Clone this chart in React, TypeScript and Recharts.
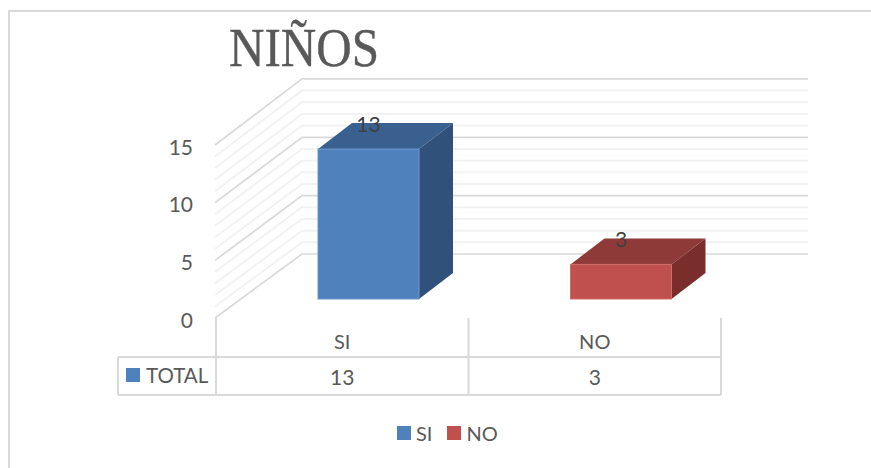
import React from "react";
import { BarChart, Bar, XAxis, YAxis, Legend, LabelList, CartesianGrid } from "recharts";

const titleText = "NIÑOS";
const categories = ["SI", "NO"];
const totals = [13, 3];
const rowLabel = "TOTAL";
const yTicks = [0, 1, 2, 3, 4, 5, 6, 7, 8, 9, 10, 11, 12, 13, 14, 15];

const frontColors = ["#4F81BD", "#C0504D"];
const topColors = ["#3A6090", "#8E3A38"];
const sideColors = ["#30527A", "#7A2E2C"];
const edgeColors = ["#6C97CC", "#D06C69"];

const FONT = "Lato, sans-serif";
const FONT_SIZE = 21;
const TEXT = "#595959";
const W = 871;
const H = 468;
const PLOT_LEFT = 216;
const PLOT_RIGHT = 721;
const PLOT_TOP = 145;
const PLOT_BOTTOM = 318;
const WALL_DX = 86;
const WALL_DY = 64;
const WALL_STRETCH = 0.012;
const WALL_RIGHT = 808;
const BAR_SHIFT_X = 26;
const BAR_SHIFT_Y = 19;
const BAR_DEPTH_X = 34;
const BAR_DEPTH_Y = 26;
const TABLE_LEFT = 118;
const TABLE_MID = 357;
const TABLE_BOTTOM = 395;
const LINE = "#D9D9D9";
const TABLE_WIDTH = 2;
const UNIT = (PLOT_BOTTOM - PLOT_TOP) / 15;

const data = categories.map((name, i) => ({ name, total: totals[i] }));

function WallLine(props: any) {
  const { y1 } = props;
  const y = y1 as number;
  const v = Math.round((PLOT_BOTTOM - y) / UNIT);
  const major = v % 5 === 0;
  const by = y - WALL_DY - (PLOT_BOTTOM - y) * WALL_STRETCH;
  return (
    <polyline
      key={`wall-${v}`}
      points={`${PLOT_LEFT - 1},${y} ${PLOT_LEFT + WALL_DX},${by} ${WALL_RIGHT},${by}`}
      fill="none"
      stroke={major ? LINE : "#F2F2F2"}
      strokeWidth={major ? 1.7 : 2}
    />
  );
}

function ValueTick(props: any) {
  const { y, payload } = props;
  const v = payload.value as number;
  if (v % 5 !== 0) return <g />;
  return (
    <text x={193} y={y + 1} textAnchor="end" dominantBaseline="central" fontFamily={FONT} fontSize={FONT_SIZE} fill={TEXT}>
      {v}
    </text>
  );
}

function TableTick(props: any) {
  const { x, payload, index } = props;
  const half = (PLOT_RIGHT - PLOT_LEFT) / categories.length / 2;
  return (
    <g>
      {index === 0 && (
        <g>
          <line x1={x - half} x2={x - half} y1={PLOT_BOTTOM} y2={TABLE_BOTTOM} stroke={LINE} strokeWidth={TABLE_WIDTH} />
          <line x1={TABLE_LEFT} x2={x - half} y1={TABLE_MID} y2={TABLE_MID} stroke={LINE} strokeWidth={TABLE_WIDTH} />
          <line x1={TABLE_LEFT} x2={x - half} y1={TABLE_BOTTOM} y2={TABLE_BOTTOM} stroke={LINE} strokeWidth={TABLE_WIDTH} />
          <line x1={TABLE_LEFT} x2={TABLE_LEFT} y1={TABLE_MID} y2={TABLE_BOTTOM} stroke={LINE} strokeWidth={TABLE_WIDTH} />
          <rect x={126} y={368} width={14} height={14} fill={frontColors[0]} />
          <text x={146} y={375} dominantBaseline="central" fontFamily={FONT} fontSize={20.5} fill={TEXT}>
            {rowLabel}
          </text>
        </g>
      )}
      <line x1={x + half} x2={x + half} y1={PLOT_BOTTOM} y2={TABLE_BOTTOM} stroke={LINE} strokeWidth={TABLE_WIDTH} />
      <line x1={x - half} x2={x + half} y1={TABLE_MID} y2={TABLE_MID} stroke={LINE} strokeWidth={TABLE_WIDTH} />
      <line x1={x - half} x2={x + half} y1={TABLE_BOTTOM} y2={TABLE_BOTTOM} stroke={LINE} strokeWidth={TABLE_WIDTH} />
      <text x={x} y={341} textAnchor="middle" dominantBaseline="central" fontFamily={FONT} fontSize={20} fill={TEXT}>
        {payload.value}
      </text>
      <text x={x} y={376} textAnchor="middle" dominantBaseline="central" fontFamily={FONT} fontSize={FONT_SIZE} fill={TEXT}>
        {totals[index]}
      </text>
    </g>
  );
}

function Box3D(props: any) {
  const { x, y, width, height, index } = props;
  const l = x + BAR_SHIFT_X;
  const r = l + width;
  const t = y - BAR_SHIFT_Y;
  const b = t + height;
  const dx = BAR_DEPTH_X;
  const dy = BAR_DEPTH_Y;
  return (
    <g>
      <polygon points={`${l},${t} ${l + dx},${t - dy} ${r + dx},${t - dy} ${r},${t}`} fill={topColors[index]} />
      <polygon points={`${r},${t} ${r + dx},${t - dy} ${r + dx},${b - dy} ${r},${b}`} fill={sideColors[index]} />
      <rect x={l} y={t} width={width} height={height} fill={frontColors[index]} stroke={edgeColors[index]} strokeWidth={1} />
    </g>
  );
}

function BarValue(props: any) {
  const { x, y, width, value } = props;
  return (
    <text
      x={x + width / 2 + BAR_SHIFT_X}
      y={y - BAR_SHIFT_Y - BAR_DEPTH_Y}
      textAnchor="middle"
      dominantBaseline="central"
      fontFamily={FONT}
      fontSize={FONT_SIZE}
      fill="#404040"
    >
      {value}
    </text>
  );
}

function LegendBox() {
  return (
    <div style={{ display: "flex", alignItems: "center", height: 30, fontFamily: FONT, fontSize: 20, color: TEXT, lineHeight: "30px" }}>
      {categories.map((c, i) => (
        <div key={c} style={{ display: "flex", alignItems: "center", marginRight: i === 0 ? 15 : 0 }}>
          <span style={{ display: "inline-block", width: 14, height: 14, background: frontColors[i], marginRight: 5 }} />
          <span>{c}</span>
        </div>
      ))}
    </div>
  );
}

export default function App() {
  return (
    <div style={{ position: "absolute", left: 0, top: 0, width: W, height: H, overflow: "hidden", background: "#fff" }}>
      <div style={{ position: "absolute", left: 8, top: 10, width: 1000, height: 1000, border: `2px solid ${LINE}`, boxSizing: "border-box" }} />
      <div style={{ position: "absolute", left: 0, top: 0 }}>
        <BarChart
          width={W}
          height={H}
          data={data}
          barSize={101}
          margin={{ left: PLOT_LEFT - 50, right: W - PLOT_RIGHT, top: PLOT_TOP, bottom: H - PLOT_BOTTOM - 40 - 30 }}
        >
          <text x={229} y={66} fontFamily="'Liberation Serif', serif" fontSize={54} fill={TEXT} stroke={TEXT} strokeWidth={0.4} textLength={150} lengthAdjust="spacingAndGlyphs">
            {titleText}
          </text>
          <CartesianGrid vertical={false} horizontal={WallLine} horizontalValues={yTicks} />
          <YAxis width={50} domain={[0, 15]} ticks={yTicks} interval={0} axisLine={false} tickLine={false} tick={ValueTick} />
          <XAxis dataKey="name" height={40} interval={0} axisLine={false} tickLine={false} tick={TableTick} />
          <Legend content={LegendBox} height={30} wrapperStyle={{ left: 397, top: 418, width: "auto" }} />
          <Bar dataKey="total" isAnimationActive={false} shape={Box3D}>
            <LabelList dataKey="total" content={BarValue} />
          </Bar>
        </BarChart>
      </div>
    </div>
  );
}
